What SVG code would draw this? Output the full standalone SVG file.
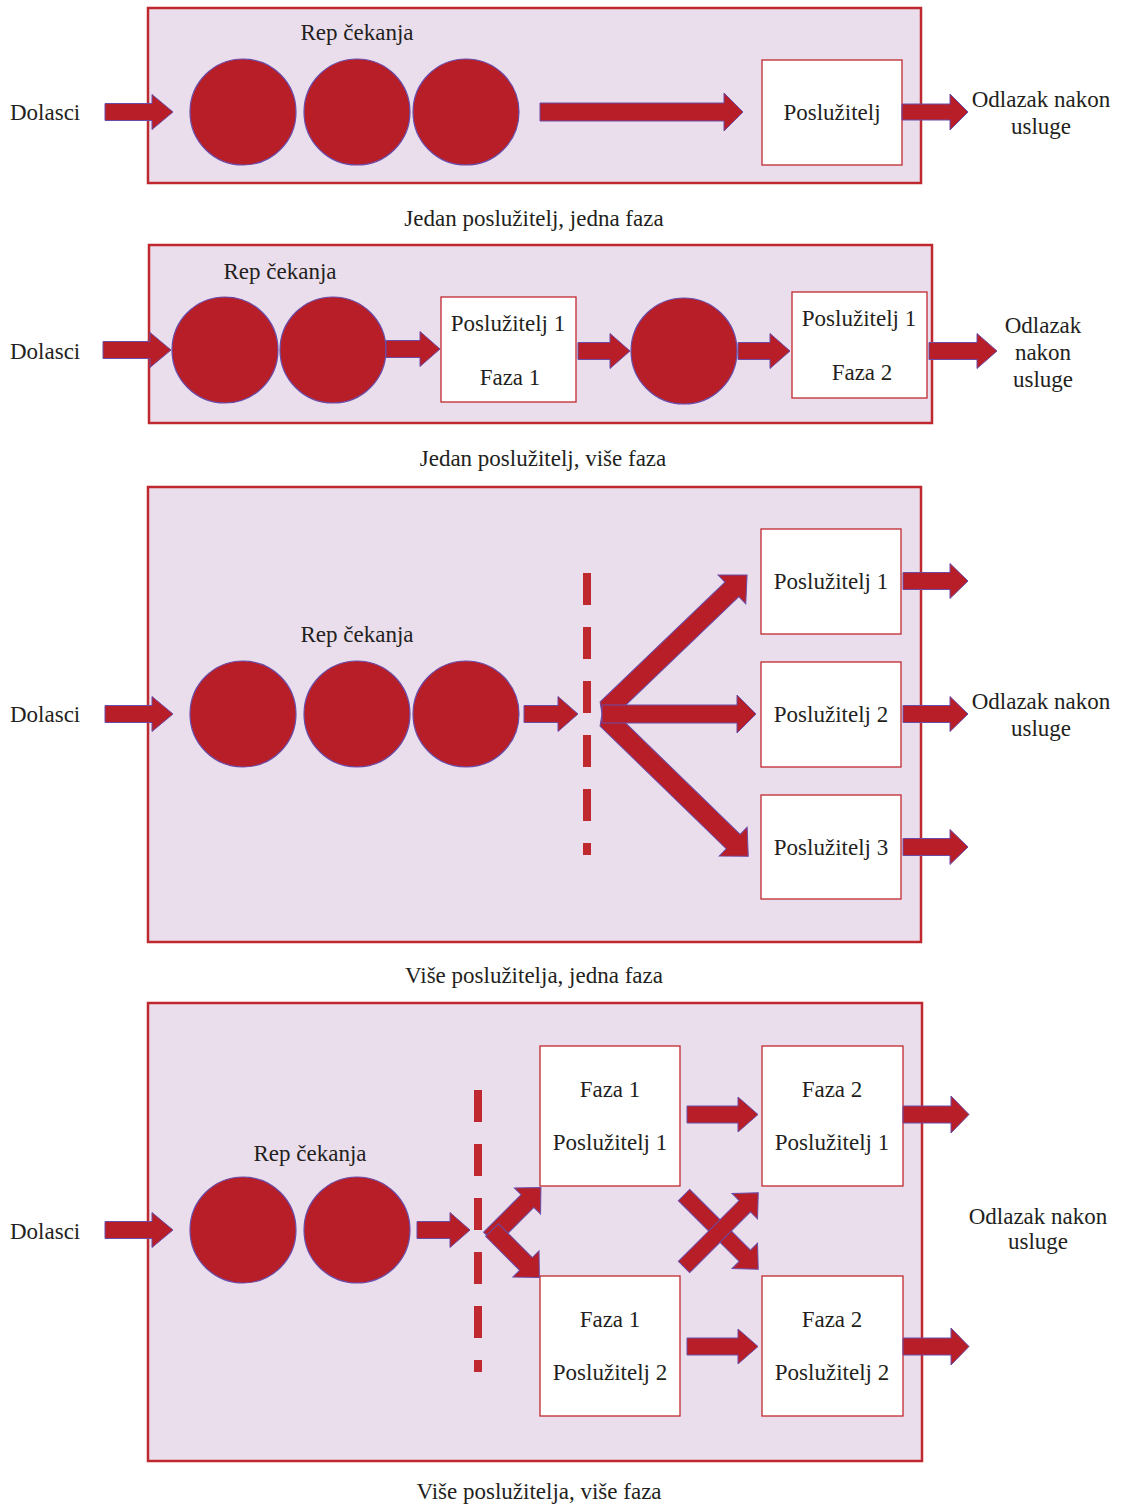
<svg xmlns="http://www.w3.org/2000/svg" width="1123" height="1505" viewBox="0 0 1123 1505">
<style>
.panel{fill:#EBDEEC;stroke:#C0282F;stroke-width:2.5}
.box{fill:#FFFFFF;stroke:#C0282F;stroke-width:1.3}
.c{fill:#B81E27;stroke:#6A4BA8;stroke-width:1.2}
.ar{fill:#B81E27;stroke:#6A4BA8;stroke-width:1}
.dash{stroke:#C0282F;stroke-width:8;stroke-dasharray:32 22;fill:none}
text{font-family:"Liberation Serif","Times New Roman",serif;font-size:23px;fill:#231F20;text-anchor:middle}
.l{text-anchor:start}
</style>
<rect width="1123" height="1505" fill="#FFFFFF"/>

<!-- Panel 1 -->
<g id="panel1">
<rect class="panel" x="148" y="8" width="773" height="175"/>
<text x="357" y="40">Rep čekanja</text>
<text class="l" x="10" y="120">Dolasci</text>
<g id="p1-queue">
<circle class="c" cx="243" cy="112" r="53"/>
<circle class="c" cx="357" cy="112" r="53"/>
<circle class="c" cx="466" cy="112" r="53"/>
</g>
<g id="p1-server">
<rect class="box" x="762" y="60" width="140" height="105"/>
<text x="832" y="120">Poslužitelj</text>
</g>
<text x="1041" y="107">Odlazak nakon</text>
<text x="1041" y="134">usluge</text>
<text x="534" y="226">Jedan poslužitelj, jedna faza</text>
</g>

<!-- Panel 2 -->
<g id="panel2">
<rect class="panel" x="149" y="245" width="783" height="178"/>
<text x="280" y="279">Rep čekanja</text>
<text class="l" x="10" y="359">Dolasci</text>
<g id="p2-queue">
<circle class="c" cx="225" cy="350" r="53"/>
<circle class="c" cx="333" cy="350" r="53"/>
</g>
<g id="p2-server1">
<rect class="box" x="441" y="297" width="135" height="105"/>
<text x="508" y="331">Poslužitelj 1</text>
<text x="510" y="385">Faza 1</text>
</g>
<g id="p2-queue2">
<circle class="c" cx="684" cy="351" r="53"/>
</g>
<g id="p2-server2">
<rect class="box" x="792" y="292" width="135" height="106"/>
<text x="859" y="326">Poslužitelj 1</text>
<text x="862" y="380">Faza 2</text>
</g>
<text x="1043" y="333">Odlazak</text>
<text x="1043" y="360">nakon</text>
<text x="1043" y="387">usluge</text>
<text x="543" y="466">Jedan poslužitelj, više faza</text>
</g>

<!-- Panel 3 -->
<g id="panel3">
<rect class="panel" x="148" y="487" width="773" height="455"/>
<text x="357" y="642">Rep čekanja</text>
<text class="l" x="10" y="722">Dolasci</text>
<g id="p3-queue">
<circle class="c" cx="243" cy="714" r="53"/>
<circle class="c" cx="357" cy="714" r="53"/>
<circle class="c" cx="466" cy="714" r="53"/>
</g>
<line class="dash" x1="587" y1="573" x2="587" y2="855"/>
<g id="p3-server1">
<rect class="box" x="761" y="529" width="140" height="105"/>
<text x="831" y="589">Poslužitelj 1</text>
</g>
<g id="p3-server2">
<rect class="box" x="761" y="662" width="140" height="105"/>
<text x="831" y="722">Poslužitelj 2</text>
</g>
<g id="p3-server3">
<rect class="box" x="761" y="795" width="140" height="104"/>
<text x="831" y="855">Poslužitelj 3</text>
</g>
<text x="1041" y="709">Odlazak nakon</text>
<text x="1041" y="736">usluge</text>
<text x="534" y="983">Više poslužitelja, jedna faza</text>
</g>

<!-- Panel 4 -->
<g id="panel4">
<rect class="panel" x="148" y="1003" width="774" height="458"/>
<text x="310" y="1161">Rep čekanja</text>
<text class="l" x="10" y="1239">Dolasci</text>
<g id="p4-queue">
<circle class="c" cx="243" cy="1230" r="53"/>
<circle class="c" cx="357" cy="1230" r="53"/>
</g>
<line class="dash" x1="478" y1="1090" x2="478" y2="1372"/>
<g id="p4-f1s1">
<rect class="box" x="540" y="1046" width="140" height="140"/>
<text x="610" y="1097">Faza 1</text>
<text x="610" y="1150">Poslužitelj 1</text>
</g>
<g id="p4-f2s1">
<rect class="box" x="762" y="1046" width="141" height="140"/>
<text x="832" y="1097">Faza 2</text>
<text x="832" y="1150">Poslužitelj 1</text>
</g>
<g id="p4-f1s2">
<rect class="box" x="540" y="1276" width="140" height="140"/>
<text x="610" y="1327">Faza 1</text>
<text x="610" y="1380">Poslužitelj 2</text>
</g>
<g id="p4-f2s2">
<rect class="box" x="762" y="1276" width="141" height="140"/>
<text x="832" y="1327">Faza 2</text>
<text x="832" y="1380">Poslužitelj 2</text>
</g>
<text x="1038" y="1224">Odlazak nakon</text>
<text x="1038" y="1249">usluge</text>
<text x="539" y="1499">Više poslužitelja, više faza</text>
</g>

<!-- Connectors -->
<g id="connectors">
<!-- panel 1 -->
<path class="ar" d="M105,103.5 H152 V94.5 L173,112 L152,129.5 V120.5 H105 Z"/>
<path class="ar" d="M540,103 H724 V93 L743,112 L724,131 V121 H540 Z"/>
<path class="ar" d="M902,104 H950 V94 L968,112 L950,130 V120 H902 Z"/>
<!-- panel 2 -->
<path class="ar" d="M103,341.5 H150 V332.5 L171,350 L150,367.5 V358.5 H103 Z"/>
<path class="ar" d="M386,340.5 H420 V331.5 L440,349 L420,366.5 V357.5 H386 Z"/>
<path class="ar" d="M578,342.5 H610 V333.5 L630,351 L610,368.5 V359.5 H578 Z"/>
<path class="ar" d="M738,342.5 H770 V333.5 L790,351 L770,368.5 V359.5 H738 Z"/>
<path class="ar" d="M929,342.5 H977 V333.5 L997,351 L977,368.5 V359.5 H929 Z"/>
<!-- panel 3 -->
<path class="ar" d="M105,705.5 H152 V696.5 L173,714 L152,731.5 V722.5 H105 Z"/>
<path class="ar" d="M524,705.5 H558 V696.5 L578,714 L558,731.5 V722.5 H524 Z"/>
<path class="ar" d="M609,704 H782 V694 L803,714 L782,734 V724 H609 L602,714 Z" transform="rotate(-43.8 602 714)"/>
<path class="ar" d="M609,704 H785 V694 L806,714 L785,734 V724 H609 L602,714 Z" transform="rotate(44.2 602 714)"/>
<path class="ar" d="M602,705 H737 V695 L756,714 L737,733 V723 H602 Z"/>
<path class="ar" d="M903,572.5 H950 V563.5 L968,581 L950,598.5 V589.5 H903 Z"/>
<path class="ar" d="M903,705.5 H950 V696.5 L968,714 L950,731.5 V722.5 H903 Z"/>
<path class="ar" d="M903,838.5 H950 V829.5 L968,847 L950,864.5 V855.5 H903 Z"/>
<!-- panel 4 -->
<path class="ar" d="M105,1221.5 H152 V1212.5 L173,1230 L152,1247.5 V1238.5 H105 Z"/>
<path class="ar" d="M417,1221.5 H450 V1212.5 L470,1230 L450,1247.5 V1238.5 H417 Z"/>
<path class="ar" d="M490,1229.5 H543 V1220 L562,1238.5 L543,1257 V1247.5 H490 Z" transform="rotate(-45 490 1238.5)"/>
<path class="ar" d="M492,1221 H540 V1211.5 L559,1230 L540,1248.5 V1239 H492 Z" transform="rotate(45 492 1230)"/>
<path class="ar" d="M684,1259 H770 V1249 L789,1267 L770,1285 V1275 H684 Z" transform="rotate(45 684 1195) translate(0 -72)"/>
<path class="ar" d="M684,1259 H770 V1249 L789,1267 L770,1285 V1275 H684 Z" transform="rotate(-45 684 1267)"/>
<path class="ar" d="M687,1106 H738 V1097 L758,1114.5 L738,1132 V1123 H687 Z"/>
<path class="ar" d="M687,1338 H738 V1329 L758,1346.5 L738,1364 V1355 H687 Z"/>
<path class="ar" d="M903,1106 H951 V1096 L969,1114.5 L951,1133 V1123 H903 Z"/>
<path class="ar" d="M903,1338 H951 V1328 L969,1346.5 L951,1365 V1355 H903 Z"/>
</g>
</svg>
